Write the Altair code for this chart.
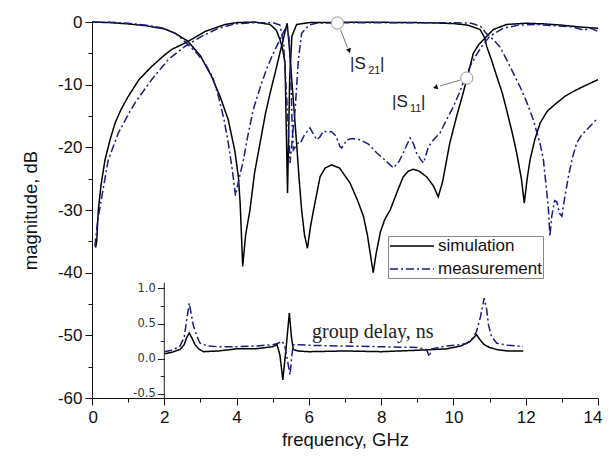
import altair as alt
import pandas as pd

# ---------------- data ----------------
sim_s11_f = [0, 0.5, 1.0, 1.5, 2.0, 2.3, 2.66, 3.0, 3.31, 3.55, 3.77, 3.95, 4.05, 4.1, 4.17, 4.25, 4.37, 4.5, 4.65,
             4.8, 4.93, 5.08, 5.2, 5.3, 5.36, 5.40, 5.46, 5.52, 5.59, 5.66, 5.73, 5.8, 5.88, 5.96, 6.05, 6.13, 6.31,
             6.45, 6.63, 6.85, 7.14, 7.35, 7.51, 7.62, 7.7, 7.78, 7.86, 7.98, 8.1, 8.25, 8.45, 8.61, 8.75, 8.89,
             9.05, 9.26, 9.45, 9.58, 9.7, 9.9, 10.1, 10.27, 10.42, 10.55, 10.7, 10.87, 11.1, 11.47, 12.0, 12.5,
             13.0, 13.5, 14.0]
sim_s11_db = [0, -0.1, -0.3, -0.6, -1.1, -1.8, -3.1, -5.4, -8.7, -12, -15.6, -20.5, -24.7, -29, -39, -34, -30, -24,
              -19.3, -14.6, -11.3, -7.8, -4.9, -2.6, -1.0, -0.2, -4, -8.7, -14, -19.3, -25, -30, -34, -36.1, -32.5,
              -30, -24.7, -23.3, -22.8, -23.3, -25.7, -28.5, -31, -34, -37, -40, -37, -33.5, -31.5, -30, -27, -24.7,
              -23.8, -23.5, -23.8, -24.7, -26.2, -27.9, -25.5, -19.3, -14.8, -11.3, -8, -5, -3.6, -2.6, -1.2, -0.4,
              -0.2, -0.3, -0.5, -0.8, -1.0]

sim_s21_f = [0.1, 0.13, 0.175, 0.25, 0.36, 0.5, 0.64, 0.8, 1.0, 1.3, 1.65, 2.0, 2.2, 2.66, 3.13, 3.68, 4.0, 4.5,
             4.93, 5.1, 5.2, 5.27, 5.34, 5.41, 5.47, 5.53, 5.66, 6.0, 7.0, 8.0, 9.0, 9.5, 10.0, 10.4, 10.74, 10.87,
             10.92, 11.05, 11.2, 11.35, 11.47, 11.62, 11.75, 11.88, 11.96, 12.04, 12.12, 12.25, 12.4, 12.6, 12.86,
             13.1, 13.41, 13.7, 14.0]
sim_s21_db = [-36, -35, -30, -26, -22, -18.8, -16.1, -14, -11.9, -9.2, -7.1, -5.3, -4.4, -3.1, -1.5, -0.4, -0.1, 0,
              -0.4, -1.3, -2.8, -4.2, -6.5, -27.3, -9, -2.3, -0.4, -0.1, -0.05, -0.05, -0.1, -0.15, -0.25, -0.5,
              -1.2, -2.6, -3.9, -6, -8.7, -11.3, -14, -17.5, -20.9, -25, -28.9, -25, -22, -18.8, -16.1, -14.2, -12.9,
              -11.8, -10.8, -10, -9.2]

meas_s11_f = [0, 0.5, 1.0, 1.5, 2.0, 2.3, 2.62, 2.9, 3.13, 3.35, 3.5, 3.65, 3.77, 3.88, 3.97, 4.05, 4.19, 4.3, 4.46,
              4.65, 4.83, 5.0, 5.2, 5.3, 5.38, 5.45, 5.50, 5.53, 5.57, 5.64, 5.71, 5.76, 5.88, 6.03, 6.12, 6.22, 6.31,
              6.4, 6.49, 6.63, 6.75, 6.86, 6.91, 7.0, 7.05, 7.2, 7.42, 7.65, 7.88, 8.1, 8.34, 8.5, 8.61, 8.8, 8.9,
              8.98, 9.1, 9.17, 9.31, 9.45, 9.63, 9.8, 10.0, 10.15, 10.27, 10.46, 10.62, 10.78, 11.0, 11.38, 11.8,
              12.3, 12.8, 13.3, 13.6, 13.8, 14.0]
meas_s11_db = [0, -0.05, -0.2, -0.5, -1.0, -1.8, -3.4, -5, -6.6, -9, -11.9, -15.5, -19.3, -23.5, -27.7, -25.5, -22,
               -18.5, -14, -10.5, -7.5, -5.2, -2.8, -1.6, -0.8, -2.5, -8, -15, -20.4, -19.8, -19.3, -19.4, -18,
               -16.9, -17.8, -18.8, -18.3, -17.4, -17.5, -17.5, -18.2, -19.9, -20.1, -19.3, -18.8, -18.6, -18.8,
               -19.5, -20.9, -22, -23.3, -22.2, -20.9, -18.5, -19.5, -20.9, -22, -22.5, -19.9, -18.8, -17.7, -15.7,
               -13.5, -11.5, -9.7, -7.1, -5.4, -3.9, -2.3, -1.0, -0.5, -0.4, -0.6, -0.8, -1.3, -1.0, -1.5]

meas_s21_f = [0.08, 0.15, 0.27, 0.45, 0.73, 1.0, 1.19, 1.65, 2.11, 2.57, 3.03, 3.5, 3.96, 4.5, 5.0, 5.2, 5.3, 5.39,
              5.44, 5.48, 5.55, 5.62, 5.71, 5.8, 6.0, 6.2, 7.0, 8.0, 9.0, 10.0, 10.5, 10.75, 10.92, 11.1, 11.29,
              11.47, 11.66, 11.84, 12.03, 12.21, 12.4, 12.49, 12.58, 12.63, 12.67, 12.72, 12.8, 12.86, 12.93, 13.0,
              13.08, 13.18, 13.3, 13.41, 13.55, 13.69, 13.85, 14.0]
meas_s21_db = [-35.8, -32, -27.9, -22, -17.7, -14.8, -12.9, -9.2, -6, -3.9, -2.3, -1.0, -0.3, -0.1, -0.1, -0.5,
               -3.4, -12.4, -18, -22.5, -18, -14, -6, -1.8, -0.5, -0.2, -0.1, -0.1, -0.1, -0.1, -0.2, -0.7, -1.9,
               -2.8, -4.0, -6, -8.2, -10.3, -12.8, -15.6, -19.5, -22, -27, -30, -34.2, -31, -28.5, -28.7, -30.5,
               -31, -28, -24.7, -21.5, -19.3, -18, -17.2, -16.2, -15.3]

gd_sim_f = [2.0, 2.2, 2.43, 2.55, 2.62, 2.69, 2.76, 2.85, 2.95, 3.08, 3.5, 4.0, 4.5, 5.0, 5.12, 5.2, 5.28, 5.37,
            5.46, 5.52, 5.57, 5.7, 6.0, 7.0, 8.0, 9.0, 9.8, 10.2, 10.45, 10.58, 10.64, 10.72, 10.85, 11.0, 11.2,
            11.5, 11.93]
gd_sim_ns = [0.07, 0.09, 0.13, 0.2, 0.3, 0.365, 0.3, 0.2, 0.14, 0.10, 0.11, 0.14, 0.14, 0.17, 0.2, 0.05, -0.3, 0.15,
             0.65, 0.3, 0.13, 0.11, 0.10, 0.11, 0.10, 0.12, 0.14, 0.18, 0.24, 0.31, 0.34, 0.28, 0.2, 0.16, 0.13,
             0.11, 0.11]

gd_meas_f = [2.0, 2.2, 2.43, 2.55, 2.62, 2.69, 2.75, 2.8, 2.9, 2.99, 3.2, 3.5, 4.0, 4.5, 5.0, 5.15, 5.25, 5.33,
             5.4, 5.48, 5.53, 5.57, 5.76, 6.0, 7.0, 8.0, 9.0, 9.26, 9.33, 9.4, 9.8, 10.2, 10.37, 10.55, 10.64, 10.75,
             10.85, 10.92, 10.97, 11.05, 11.2, 11.5, 11.93]
gd_meas_ns = [0.10, 0.12, 0.175, 0.3, 0.55, 0.79, 0.62, 0.48, 0.32, 0.22, 0.18, 0.17, 0.17, 0.18, 0.2, 0.22, 0.25,
              0.2, 0.0, -0.23, 0.05, 0.2, 0.2, 0.19, 0.18, 0.17, 0.16, 0.13, 0.03, 0.14, 0.18, 0.2, 0.22, 0.3, 0.39,
              0.6, 0.86, 0.7, 0.48, 0.32, 0.22, 0.19, 0.175]

series_names = ["simulation", "measurement"]
x_ticks = list(range(0, 15))
y_ticks = list(range(-60, 1, 5))
gd_ticks = [-0.5, -0.25, 0.0, 0.25, 0.5, 0.75, 1.0]

# annotations
label_text = ["|S", "21", "|", "|S", "11", "|"]
label_f = [7.14, 7.64, 7.97, 8.30, 8.80, 9.10]
label_db = [-7.46, -8.26, -7.46, -13.5, -14.3, -13.5]
label_fs = [17, 11, 17, 17, 11, 17]
circle_f = [6.79, 10.37]
circle_db = [-0.16, -8.95]
arrow_f = [6.876, 10.18]
arrow_db = [-1.23, -9.3]
arrow_f2 = [7.07, 9.63]
arrow_db2 = [-4.1, -10.2]
head_f = [7.11, 9.52]
head_db = [-4.49, -10.4]
head_ang = [162, 255]

NAVY = "#1b1b86"
FONT = "Liberation Sans"

# ---------------- frames ----------------
rows = []
for ser, par, fs, vs in [("simulation", "S11", sim_s11_f, sim_s11_db),
                         ("simulation", "S21", sim_s21_f, sim_s21_db),
                         ("measurement", "S11", meas_s11_f, meas_s11_db),
                         ("measurement", "S21", meas_s21_f, meas_s21_db)]:
    for f, v in zip(fs, vs):
        rows.append({"f": f, "dB": v, "series": ser, "param": ser + par})
main_df = pd.DataFrame(rows)

gd_rows = []
for ser, fs, vs in [("simulation", gd_sim_f, gd_sim_ns), ("measurement", gd_meas_f, gd_meas_ns)]:
    for f, v in zip(fs, vs):
        gd_rows.append({"f": f, "gd": v, "series": ser})
gd_df = pd.DataFrame(gd_rows)

lab_df = pd.DataFrame({"f": label_f, "dB": label_db, "txt": label_text, "fs": label_fs})
circ_df = pd.DataFrame({"f": circle_f, "dB": circle_db})
arr_df = pd.DataFrame({"f": arrow_f, "dB": arrow_db, "f2": arrow_f2, "dB2": arrow_db2})
head_df = pd.DataFrame({"f": head_f, "dB": head_db, "ang": head_ang})
gdtxt_df = pd.DataFrame({"f": [6.09], "dB": [-50.4], "txt": ["group delay, ns"]})
inset_axis_df = pd.DataFrame({"f": [2.0], "gd": [-0.558], "gd2": [1.08]})

# ---------------- scales / axes ----------------
xscale = alt.Scale(domain=[0, 14], nice=False, zero=False)
yscale = alt.Scale(domain=[-60, 0], nice=False, zero=False)
gscale = alt.Scale(domain=[-0.558, 4.783], nice=False, zero=False)

x_axis = alt.Axis(
    title="frequency, GHz", values=x_ticks,
    labelExpr="datum.value % 2 == 0 ? '' + datum.value : ''",
    tickSize={"condition": {"test": "datum.value % 2 != 0", "value": 4}, "value": 7},
    labelPadding=4, labelFlush=True, labelFlushOffset=4, labelFontSize=17, labelFont=FONT, labelColor="#111",
    titleFontSize=18.5, titleFont=FONT, titleFontWeight="normal", titleColor="#111",
    titleX=253, titleY=47, titleBaseline="alphabetic",
    domainColor="#111", tickColor="#111", grid=False,
)
y_axis = alt.Axis(
    title="magnitude, dB", values=y_ticks,
    labelExpr="datum.value % 10 == 0 ? '' + datum.value : ''",
    tickSize={"condition": {"test": "datum.value % 10 != 0", "value": 4}, "value": 7},
    labelPadding=3, labelFontSize=17, labelFont=FONT, labelColor="#111",
    titleFontSize=18.5, titleFont=FONT, titleFontWeight="normal", titleColor="#111",
    titleX=-62, titleY=188, titleBaseline="middle",
    domainColor="#111", tickColor="#111", grid=False,
)
g_axis = alt.Axis(
    title=None, orient="left", offset=-72.3, values=gd_ticks, domain=False,
    labelExpr="abs(datum.value*2 - round(datum.value*2)) < 0.01 ? (datum.value < 0 ? '-' + format(-datum.value, '.1f') : format(datum.value, '.1f')) : ''",
    tickSize={"condition": {"test": "abs(datum.value*2 - round(datum.value*2)) > 0.01", "value": 4}, "value": 7},
    labelPadding=2, labelFontSize=11.5, labelFont="DejaVu Sans", labelColor="#333",
    tickColor="#222", grid=False,
)

color_scale = alt.Scale(domain=series_names, range=["black", NAVY])
dash_scale = alt.Scale(domain=series_names, range=[[1, 0], [8, 3, 2, 3]])
legend = alt.Legend(
    title=None, orient="none", legendX=296, legendY=214,
    symbolType="M-1,0H4.5", symbolSize=256, symbolStrokeWidth=1.5,
    labelFontSize=17, labelFont=FONT, labelColor="#111", labelOffset=31,
    strokeColor="#888", fillColor="white", padding=1, rowPadding=6,
)

X = alt.X("f:Q", scale=xscale, axis=x_axis)
Y = alt.Y("dB:Q", scale=yscale, axis=y_axis)

lines = alt.Chart(main_df).mark_line(strokeWidth=1.5).encode(
    x=X, y=Y,
    color=alt.Color("series:N", scale=color_scale, legend=legend),
    strokeDash=alt.StrokeDash("series:N", scale=dash_scale, legend=legend),
    detail="param:N",
)

arrows = alt.Chart(arr_df).mark_rule(color="#777", strokeWidth=1).encode(
    x=X, y=Y, x2="f2:Q", y2="dB2:Q")
heads = alt.Chart(head_df).mark_point(shape="triangle", filled=True, color="black", size=28, opacity=1).encode(
    x=X, y=Y, angle=alt.Angle("ang:Q", scale=None))
circles = alt.Chart(circ_df).mark_point(shape="circle", filled=True, fill="white", stroke="#999",
                                        strokeWidth=1, size=150, opacity=1).encode(x=X, y=Y)
labels = alt.Chart(lab_df).mark_text(align="left", baseline="alphabetic", font=FONT, color="#222").encode(
    x=X, y=Y, text="txt:N", size=alt.Size("fs:Q", scale=None))
gdtxt = alt.Chart(gdtxt_df).mark_text(align="left", baseline="alphabetic", font="Liberation Serif",
                                      fontSize=20, color="#222").encode(x=X, y=Y, text="txt:N")

main = alt.layer(lines, arrows, heads, circles, labels, gdtxt)

GX = alt.X("f:Q", scale=xscale, axis=x_axis)
gd_lines = alt.Chart(gd_df).mark_line(strokeWidth=1.5).encode(
    x=GX, y=alt.Y("gd:Q", scale=gscale, axis=g_axis),
    color=alt.Color("series:N", scale=color_scale, legend=legend),
    strokeDash=alt.StrokeDash("series:N", scale=dash_scale, legend=legend),
)
gd_axisline = alt.Chart(inset_axis_df).mark_rule(color="#222", strokeWidth=1).encode(
    x=GX, y=alt.Y("gd:Q", scale=gscale, axis=g_axis), y2="gd2:Q")
inset = alt.layer(gd_lines, gd_axisline)

chart = alt.layer(main, inset).resolve_scale(y="independent").properties(
    width=506, height=376,
    autosize=alt.AutoSizeParams(type="none"),
    padding={"left": 84, "top": 14, "right": 4, "bottom": 51},
    background="white",
).configure_view(stroke=None)

chart.save("out.html", embed_options={"renderer": "svg", "actions": False})
